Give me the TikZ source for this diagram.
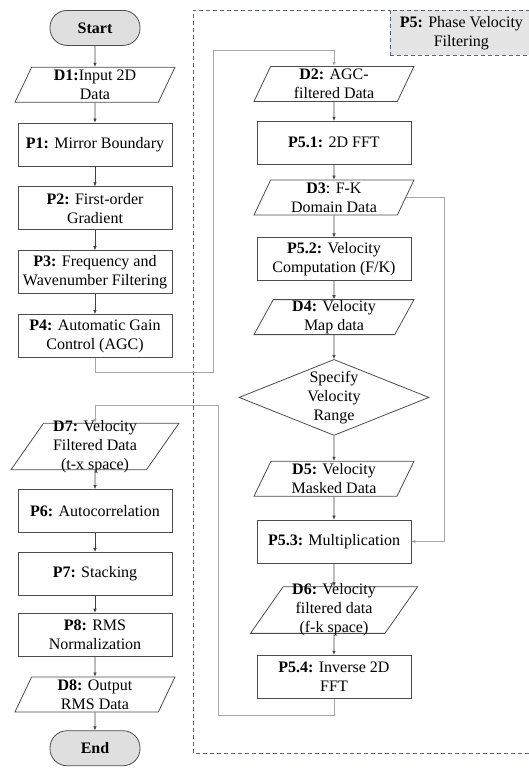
\documentclass[tikz,border=0pt]{standalone}
\usepackage{fontspec}
\setmainfont{Liberation Serif}
\usepackage{tikz}
\usetikzlibrary{shapes.geometric, arrows.meta, positioning, calc}
\definecolor{framegray}{HTML}{56637E}

\begin{document}
\begin{tikzpicture}[
  font=\fontsize{16}{19}\selectfont,
  proc/.style={rectangle, draw=black!70, line width=0.8pt, minimum width=154pt, minimum height=43pt, inner sep=2pt, align=center},
  data/.style={trapezium, trapezium left angle=55, trapezium right angle=125, trapezium stretches body, draw=black!70, line width=0.8pt, minimum width=160pt, minimum height=35pt, inner xsep=1pt, inner ysep=-3pt, align=center},
  term/.style={rectangle, rounded corners=17pt, draw=black!70, fill=gray!25, line width=0.8pt, minimum width=90pt, minimum height=35pt, font=\fontsize{16}{19}\selectfont\bfseries},
  decide/.style={diamond, aspect=2.5, draw=black!70, line width=0.8pt, inner sep=-1.5pt, minimum width=190pt, minimum height=76pt, align=center},
  flow/.style={-{Latex[length=4pt,width=3.5pt]}, black!75, line width=0.6pt},
  route/.style={-{Latex[length=4pt,width=3.5pt]}, gray!70, line width=0.8pt},
  frame/.style={draw=framegray, dash pattern=on 4pt off 3pt, line width=0.8pt},
  phaselabel/.style={frame, fill=gray!20, minimum width=142pt, minimum height=45pt, align=center}
]
  \useasboundingbox (0,0) rectangle (529pt,-771pt);

  % P5 frame, open on the right
  \draw[frame] (532pt,-10pt) -- (193pt,-10pt) -- (193pt,-753pt) -- (532pt,-753pt);
  \node[phaselabel, anchor=north west] (p5) at (390pt,-10pt) {\textbf{P5:} Phase Velocity\\Filtering};

  % left column
  \node[term, anchor=north] (start) at (95pt,-10pt) {Start};
  \node[data, below=21pt of start] (d1) {\textbf{D1:}Input 2D\\Data};
  \node[proc, below=20pt of d1] (p1) {\textbf{P1:} Mirror Boundary};
  \node[proc, below=20pt of p1] (p2) {\textbf{P2:} First-order\\Gradient};
  \node[proc, below=20pt of p2] (p3) {\textbf{P3:} Frequency and\\Wavenumber Filtering};
  \node[proc, below=20pt of p3] (p4) {\textbf{P4:} Automatic Gain\\Control (AGC)};
  \node[data, minimum width=168pt, below=65pt of p4] (d7) {\textbf{D7:} Velocity\\Filtered Data\\(t-x space)};
  \node[proc, below=19pt of d7] (p6) {\textbf{P6:} Autocorrelation};
  \node[proc, below=19pt of p6] (p7) {\textbf{P7:} Stacking};
  \node[proc, below=17pt of p7] (p8) {\textbf{P8:} RMS\\Normalization};
  \node[data, below=20pt of p8] (d8) {\textbf{D8:} Output\\RMS Data};
  \node[term, below=18pt of d8] (end) {End};

  % right column
  \node[data, anchor=north] (d2) at (334pt,-66pt) {\textbf{D2:} AGC-\\filtered Data};
  \node[proc, below=19pt of d2] (p51) {\textbf{P5.1:} 2D FFT};
  \node[data, below=15pt of p51] (d3) {\textbf{D3}: F-K\\Domain Data};
  \node[proc, below=22pt of d3] (p52) {\textbf{P5.2:} Velocity\\Computation (F/K)};
  \node[data, below=18pt of p52] (d4) {\textbf{D4:} Velocity\\Map data};
  \node[decide, below=24pt of d4] (vrange) {Specify\\Velocity\\Range};
  \node[data, below=25pt of vrange] (d5) {\textbf{D5:} Velocity\\Masked Data};
  \node[proc, below=23pt of d5] (p53) {\textbf{P5.3:} Multiplication};
  \node[data, minimum width=167pt, below=23pt of p53] (d6) {\textbf{D6:} Velocity\\filtered data\\(f-k space)};
  \node[proc, below=21pt of d6] (p54) {\textbf{P5.4:} Inverse 2D\\FFT};

  \draw[flow] (start) -- (d1);
  \draw[flow] (d1) -- (p1);
  \draw[flow] (p1) -- (p2);
  \draw[flow] (p2) -- (p3);
  \draw[flow] (p3) -- (p4);
  \draw[flow] (d7) -- (p6);
  \draw[flow] (p6) -- (p7);
  \draw[flow] (p7) -- (p8);
  \draw[flow] (p8) -- (d8);
  \draw[flow] (d8) -- (end);

  \draw[flow] (d2) -- (p51);
  \draw[flow] (p51) -- (d3);
  \draw[flow] (d3) -- (p52);
  \draw[flow] (p52) -- (d4);
  \draw[flow] (d4) -- (vrange);
  \draw[flow] (vrange) -- (d5);
  \draw[flow] (d5) -- (p53);
  \draw[flow] (p53) -- (d6);
  \draw[flow] (d6) -- (p54);

  % long connectors
  \coordinate (agcdown) at (213pt,-372pt);
  \coordinate (agcup) at (213pt,-50pt);
  \draw[route] (p4.south) |- (agcdown) -- (agcup) -| (d2.north);
  \draw[route] (d3.east) -- ++(38pt,0) |- (p53.east);
  \coordinate (ifftdown) at (218pt,-715pt);
  \coordinate (ifftup) at (218pt,-405pt);
  \draw[route] (p54.south) |- (ifftdown) -- (ifftup) -| (d7.north);
\end{tikzpicture}
\end{document}
